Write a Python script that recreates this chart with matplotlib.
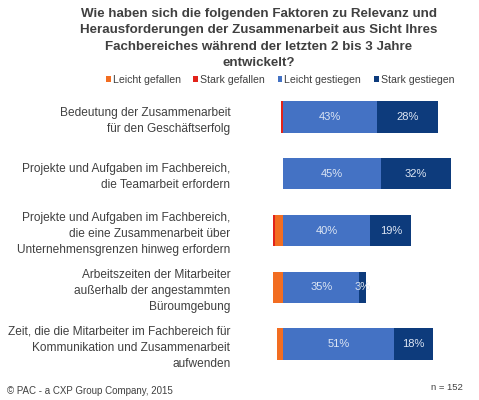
import numpy as np
import matplotlib.pyplot as plt

plt.rcParams['font.family'] = ['Liberation Sans', 'DejaVu Sans']

# Data (percent of respondents, n = 152)
categories = [
    "Bedeutung der Zusammenarbeit\nfür den Geschäftserfolg",
    "Projekte und Aufgaben im Fachbereich,\ndie Teamarbeit erfordern",
    "Projekte und Aufgaben im Fachbereich,\ndie eine Zusammenarbeit über\nUnternehmensgrenzen hinweg erfordern",
    "Arbeitszeiten der Mitarbeiter\naußerhalb der angestammten\nBüroumgebung",
    "Zeit, die die Mitarbeiter im Fachbereich für\nKommunikation und Zusammenarbeit\naufwenden",
]
leicht_gefallen = [0, 0, 4, 5, 3]
stark_gefallen = [1, 0, 1, 0, 0]
leicht_gestiegen = [43, 45, 40, 35, 51]
stark_gestiegen = [28, 32, 19, 3, 18]

series_names = ["Leicht gefallen", "Stark gefallen", "Leicht gestiegen", "Stark gestiegen"]
colors = ["#F26D21", "#E2231A", "#4472C4", "#0D3B7C"]
text_col = "#404040"

W, H = 479, 400
fig = plt.figure(figsize=(W / 100, H / 100), dpi=100)

# axes placed in pixel coordinates
ax_l, ax_r, ax_t, ax_b = 240, 479, 90, 370
ax = fig.add_axes([ax_l / W, 1 - ax_b / H, (ax_r - ax_l) / W, (ax_b - ax_t) / H])

y = np.arange(len(categories))
h = 0.55
lg = np.array(leicht_gefallen)
sg = np.array(stark_gefallen)
ls = np.array(leicht_gestiegen)
ss = np.array(stark_gestiegen)

ax.barh(y, -lg, height=h, color=colors[0], label=series_names[0])
ax.barh(y, -sg, left=-lg, height=h, color=colors[1], label=series_names[1])
ax.barh(y, ls, height=h, color=colors[2], label=series_names[2])
ax.barh(y, ss, left=ls, height=h, color=colors[3], label=series_names[3])

for i in range(len(categories)):
    ax.text(ls[i] / 2, y[i], f"{ls[i]}%", ha='center', va='center',
            color='#DDE6F4', fontsize=8)
    ax.text(ls[i] + ss[i] / 2, y[i], f"{ss[i]}%", ha='center', va='center',
            color='#DDE6F4', fontsize=8)

ax.set_xlim(-20.0, 90.1)
ax.set_ylim(4.458, -0.476)
ax.set_yticks(y)
ax.set_yticklabels(categories, fontsize=8.6, color=text_col, linespacing=1.45)
ax.tick_params(axis='y', length=0, pad=7)
ax.set_xticks([])
for s in ax.spines.values():
    s.set_visible(False)

fig.text(259 / W, 1 - 8 / H,
         "Wie haben sich die folgenden Faktoren zu Relevanz und\n"
         "Herausforderungen der Zusammenarbeit aus Sicht Ihres\n"
         "Fachbereiches während der letzten 2 bis 3 Jahre\n"
         "entwickelt?",
         ha='center', va='top', fontsize=9.6, fontweight='bold',
         color=text_col, linespacing=1.5)

fig.legend(loc='center', bbox_to_anchor=(280 / W, 1 - 80 / H), ncol=4,
           frameon=False, fontsize=7.6, handlelength=0.45, handleheight=0.45,
           handletextpad=0.2, columnspacing=1.2, labelcolor=text_col)

fig.text(7 / W, 1 - 391 / H, "© PAC - a CXP Group Company, 2015",
         ha='left', va='center', fontsize=7, color=text_col)
fig.text(463 / W, 1 - 388 / H, "n = 152", ha='right', va='center',
         fontsize=6.8, color=text_col)

plt.savefig('out.png', dpi=100)
